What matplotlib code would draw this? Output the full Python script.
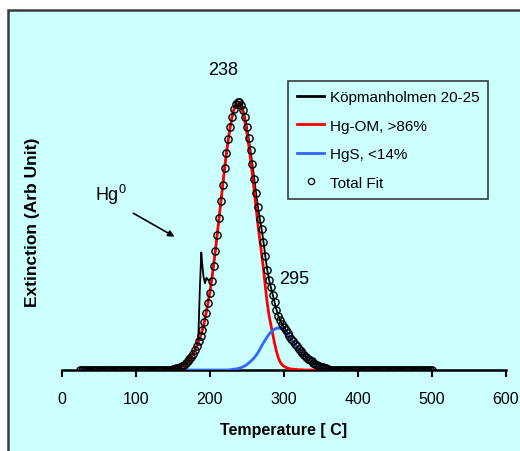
import matplotlib
matplotlib.use("Agg")
import matplotlib.pyplot as plt
from matplotlib.patches import Rectangle
from matplotlib.lines import Line2D
import numpy as np

plt.rcParams["font.family"] = ["Liberation Sans", "DejaVu Sans"]
plt.rcParams["mathtext.fontset"] = "custom"
plt.rcParams["mathtext.rm"] = "Liberation Sans"

# temperature grid of the fit (deg C) and the window where the peaks are non-zero
T_ALL = np.arange(25, 502.5, 2.5)
T_WIN = np.arange(150, 362.5, 2.5)

# Hg-OM component (red), 150..360 C
hg_om = [0.003, 0.004, 0.006, 0.008, 0.011, 0.015, 0.020, 0.026, 0.033, 0.041,
         0.050, 0.061, 0.075, 0.091, 0.109, 0.129, 0.151, 0.178, 0.212, 0.250,
         0.290, 0.335, 0.389, 0.446, 0.506, 0.569, 0.632, 0.694, 0.755, 0.812,
         0.864, 0.909, 0.946, 0.974, 0.992, 1.000, 0.997, 0.985, 0.962, 0.930,
         0.890, 0.843, 0.790, 0.732, 0.670, 0.607, 0.545, 0.490, 0.437, 0.378,
         0.312, 0.252, 0.204, 0.168, 0.134, 0.100, 0.070, 0.046, 0.030, 0.020,
         0.014, 0.010, 0.007, 0.005, 0.004, 0.003, 0.002, 0.002, 0.001, 0.001,
         0.001, 0, 0, 0, 0, 0, 0, 0, 0, 0,
         0, 0, 0, 0, 0]

# HgS component (blue), 150..360 C
hgs = [0] * 30 + [
    0.000, 0.001, 0.002, 0.003, 0.004, 0.005, 0.007, 0.009, 0.012, 0.016,
    0.020, 0.026, 0.032, 0.039, 0.046, 0.055, 0.065, 0.077, 0.090, 0.102,
    0.113, 0.124, 0.134, 0.142, 0.148, 0.153, 0.156, 0.157, 0.156, 0.153,
    0.147, 0.140, 0.132, 0.123, 0.113, 0.104, 0.095, 0.087, 0.079, 0.071,
    0.063, 0.056, 0.049, 0.043, 0.037, 0.032, 0.027, 0.023, 0.019, 0.016,
    0.013, 0.010, 0.008, 0.006, 0.004]

# measured trace deviates from the fit only around the Hg0 spike
spike_t = [182.5, 184.5, 186.5, 188.5, 190.0, 191.5, 193.5, 195.5, 197.5, 200.0, 202.5]
spike_y = [0.092, 0.118, 0.300, 0.440, 0.390, 0.350, 0.325, 0.345, 0.338, 0.335, 0.340]


def pad(win_vals):
    full = np.zeros(len(T_ALL))
    i0 = int(round((T_WIN[0] - T_ALL[0]) / 2.5))
    full[i0:i0 + len(win_vals)] = win_vals
    return full


red = pad(hg_om)
blue = pad(hgs)
fit = red + blue

keep_lo = T_ALL < spike_t[0]
keep_hi = T_ALL > spike_t[-1]
meas_t = np.concatenate([T_ALL[keep_lo], spike_t, T_ALL[keep_hi]])
meas_y = np.concatenate([fit[keep_lo], spike_y, fit[keep_hi]])

fig = plt.figure(figsize=(5.2, 4.52), dpi=100)
fig.patch.set_facecolor("white")
fig.add_artist(Rectangle((8 / 520, -0.1), 1.2, 1.1 - 11 / 452, transform=fig.transFigure,
                         facecolor="#CCFFFF", edgecolor="#3a3a3a", linewidth=1.8, zorder=-1))

ax = fig.add_axes([61.7 / 520, 81 / 452, 444.3 / 520, 336 / 452])
ax.patch.set_visible(False)

ax.plot(meas_t, meas_y, color="black", lw=1.3, zorder=2)
ax.plot(T_ALL, red, color="#FF0000", lw=2.0, zorder=3)
ax.plot(T_ALL, blue, color="#3366FF", lw=2.0, zorder=3.5)
ax.plot(T_ALL, fit, "o", mfc="none", mec="black", ms=5.2, mew=1.0, zorder=5)

ax.set_xlim(0, 600)
ax.set_ylim(0, 1.258)
ax.set_xticks(range(0, 601, 100))
ax.set_yticks([])
for s in ["left", "right", "top"]:
    ax.spines[s].set_visible(False)
ax.spines["bottom"].set_linewidth(1.8)
ax.tick_params(axis="x", direction="out", length=5.3, width=1.5, pad=10, labelsize=11.5)

fig.text(284 / 520, 1 - 431 / 452, "Temperature [ C]", ha="center", va="center",
         fontsize=11.5, fontweight="bold")
fig.text(33 / 520, 1 - 222.5 / 452, "Extinction (Arb Unit)", ha="center", va="center",
         rotation=90, fontsize=12.5, fontweight="bold")

ax.text(218, 1.124, "238", ha="center", va="center", fontsize=13)
ax.text(313.5, 0.341, "295", ha="center", va="center", fontsize=13)
ax.text(67, 0.66, r"Hg$^{0}$", ha="center", va="center", fontsize=13)
ax.annotate("", xy=(155.6, 0.494), xytext=(93.5, 0.592),
            arrowprops=dict(arrowstyle="-|>", color="black", lw=1.2, mutation_scale=9))

handles = [
    Line2D([], [], color="black", lw=2.0),
    Line2D([], [], color="#FF0000", lw=2.0),
    Line2D([], [], color="#3366FF", lw=2.0),
    Line2D([], [], ls="none", marker="o", mfc="none", mec="black", ms=4.5, mew=0.9),
]
labels = ["Köpmanholmen 20-25", "Hg-OM, >86%", "HgS, <14%", "Total Fit"]
leg = ax.legend(handles, labels, loc="upper left", bbox_to_anchor=(288 / 520, 1 - 82 / 452),
                bbox_transform=fig.transFigure, borderaxespad=0, fontsize=11,
                handlelength=1.77, handletextpad=0.35, labelspacing=0.95, borderpad=0.6,
                fancybox=False, framealpha=1, facecolor="#CCFFFF", edgecolor="#3a3a3a")
leg.get_frame().set_linewidth(1.2)

fig.savefig("out.png", dpi=100, facecolor="white")
